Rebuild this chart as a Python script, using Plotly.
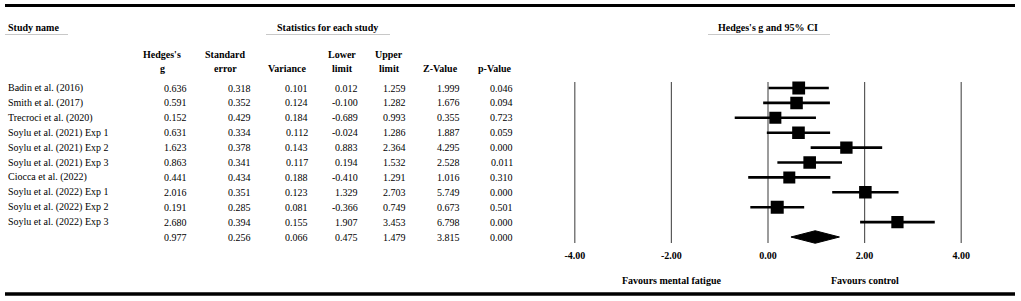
import plotly.graph_objects as go

# ---------------- data ----------------
studies = [
    "Badin et al. (2016)",
    "Smith et al. (2017)",
    "Trecroci et al. (2020)",
    "Soylu et al. (2021) Exp 1",
    "Soylu et al. (2021) Exp 2",
    "Soylu et al. (2021) Exp 3",
    "Ciocca et al. (2022)",
    "Soylu et al. (2022) Exp 1",
    "Soylu et al. (2022) Exp 2",
    "Soylu et al. (2022) Exp 3",
]
hedges_g = [0.636, 0.591, 0.152, 0.631, 1.623, 0.863, 0.441, 2.016, 0.191, 2.680]
std_err = [0.318, 0.352, 0.429, 0.334, 0.378, 0.341, 0.434, 0.351, 0.285, 0.394]
variance = [0.101, 0.124, 0.184, 0.112, 0.143, 0.117, 0.188, 0.123, 0.081, 0.155]
lower_limit = [0.012, -0.100, -0.689, -0.024, 0.883, 0.194, -0.410, 1.329, -0.366, 1.907]
upper_limit = [1.259, 1.282, 0.993, 1.286, 2.364, 1.532, 1.291, 2.703, 0.749, 3.453]
z_value = [1.999, 1.676, 0.355, 1.887, 4.295, 2.528, 1.016, 5.749, 0.673, 6.798]
p_value = [0.046, 0.094, 0.723, 0.059, 0.000, 0.011, 0.310, 0.000, 0.501, 0.000]

pooled_g = 0.977
pooled_se = 0.256
pooled_var = 0.066
pooled_lower = 0.475
pooled_upper = 1.479
pooled_z = 3.815
pooled_p = 0.000

tick_vals = [-4, -2, 0, 2, 4]
tick_text = ["-4.00", "-2.00", "0.00", "2.00", "4.00"]

col_headers = [("Hedges's", "g"), ("Standard", "error"), ("", "Variance"),
               ("Lower", "limit"), ("Upper", "limit"), ("", "Z-Value"), ("", "p-Value")]

# ---------------- layout geometry ----------------
W, H = 1021, 301
FONT = "Liberation Serif"
FS = 10
ROW0, ROWH = 88.0, 14.9          # pixel y of first row, row height
AX_BOTTOM = 248.0                 # pixel y of plot-area bottom
ZERO_PX, UNIT_PX = 768.0, 48.3    # pixel x of 0 and pixels per unit
XR = (-4.5, 4.5)

def px(x):
    return x / W

def py(y):
    return 1 - y / H

x_dom = [px(ZERO_PX + XR[0] * UNIT_PX), px(ZERO_PX + XR[1] * UNIT_PX)]
y_range = [(AX_BOTTOM - ROW0) / ROWH, -ROW0 / ROWH]

n = len(studies)
rows = list(range(n))
sum_row = n

fig = go.Figure()

# confidence intervals
for i in rows:
    fig.add_trace(go.Scatter(
        x=[lower_limit[i], upper_limit[i]], y=[i, i], mode="lines",
        line=dict(color="black", width=2.6), showlegend=False, hoverinfo="skip"))

# point estimates (size from weight)
w = [1.0 / (v + 0.4) for v in variance]
wmax = max(w)
sizes = [10.0 + 3.0 * (wi / wmax) ** 2 for wi in w]
fig.add_trace(go.Scatter(
    x=hedges_g, y=rows, mode="markers",
    marker=dict(symbol="square", size=sizes, color="black", opacity=1,
                line=dict(width=0)),
    showlegend=False))

# summary diamond
fig.add_trace(go.Scatter(
    x=[pooled_lower, pooled_g, pooled_upper, pooled_g, pooled_lower],
    y=[sum_row, sum_row - 0.42, sum_row, sum_row + 0.42, sum_row],
    mode="lines", fill="toself", fillcolor="black",
    line=dict(color="black", width=1), showlegend=False))

shapes = []
# vertical reference lines
for tv in tick_vals:
    shapes.append(dict(type="line", xref="x", yref="y", x0=tv, x1=tv,
                       y0=-0.4, y1=sum_row + 0.4, layer="below",
                       line=dict(color="#5a5a5a", width=1.2)))
# top and bottom thick rules
shapes.append(dict(type="line", xref="paper", yref="paper", x0=px(5), x1=px(1015),
                   y0=py(5.5), y1=py(5.5), line=dict(color="black", width=3.2)))
shapes.append(dict(type="line", xref="paper", yref="paper", x0=px(5), x1=px(1015),
                   y0=py(294), y1=py(294), line=dict(color="black", width=3.5)))
# header underlines
for x0, x1 in [(5, 68), (266, 390), (708, 830)]:
    shapes.append(dict(type="line", xref="paper", yref="paper", x0=px(x0), x1=px(x1),
                       y0=py(34.5), y1=py(34.5), line=dict(color="#c8c8c8", width=1)))

ann = []

def text(x, y, s, anchor="center", bold=False, yref="paper"):
    ann.append(dict(
        x=px(x), y=(py(y) if yref == "paper" else y), xref="paper", yref=yref,
        text=s, showarrow=False, xanchor=anchor, yanchor="middle",
        font=dict(family=FONT, size=FS, color="black", weight="bold" if bold else "normal")))

# section headers
text(6, 28, "Study name", anchor="left", bold=True)
text(327, 28, "Statistics for each study", bold=True)
text(768, 27, "Hedges's g and 95% CI", bold=True)

# column headers
col_centers = [162, 225, 287, 342, 389, 440, 495]
for (l1, l2), cx in zip(col_headers, col_centers):
    if l1:
        text(cx, 55, l1, bold=True)
    text(cx, 68, l2, bold=True)

# table body
col_right = [189, 253, 310, 360, 408, 462, 515]
columns = [hedges_g, std_err, variance, lower_limit, upper_limit, z_value, p_value]
for i in rows:
    text(6, i, studies[i], anchor="left", yref="y")
    for col, xr in zip(columns, col_right):
        text(xr, i, f"{col[i]:.3f}", anchor="right", yref="y")
pooled = [pooled_g, pooled_se, pooled_var, pooled_lower, pooled_upper, pooled_z, pooled_p]
for val, xr in zip(pooled, col_right):
    text(xr, sum_row, f"{val:.3f}", anchor="right", yref="y")

# favours labels
text(ZERO_PX + tick_vals[1] * UNIT_PX, 280, "Favours mental fatigue", bold=True)
text(ZERO_PX + tick_vals[3] * UNIT_PX, 280, "Favours control", bold=True)

fig.update_layout(
    template="none",
    width=W, height=H,
    margin=dict(l=0, r=0, t=0, b=0, pad=0),
    paper_bgcolor="white", plot_bgcolor="white",
    font=dict(family=FONT, size=FS, color="black"),
    shapes=shapes, annotations=ann,
    showlegend=False,
    xaxis=dict(domain=x_dom, range=list(XR), tickvals=tick_vals, ticktext=tick_text,
               showgrid=False, zeroline=False, showline=False, ticks="",
               tickfont=dict(family=FONT, size=FS, color="black", weight="bold"),
               automargin=False, fixedrange=True),
    yaxis=dict(domain=[py(AX_BOTTOM), 1], range=y_range, showgrid=False, zeroline=False,
               showline=False, showticklabels=False, ticks="", automargin=False,
               fixedrange=True),
)

fig.write_html("out.html", config={"displayModeBar": False},
               post_script="document.body.style.margin='0';document.body.style.padding='0';")
